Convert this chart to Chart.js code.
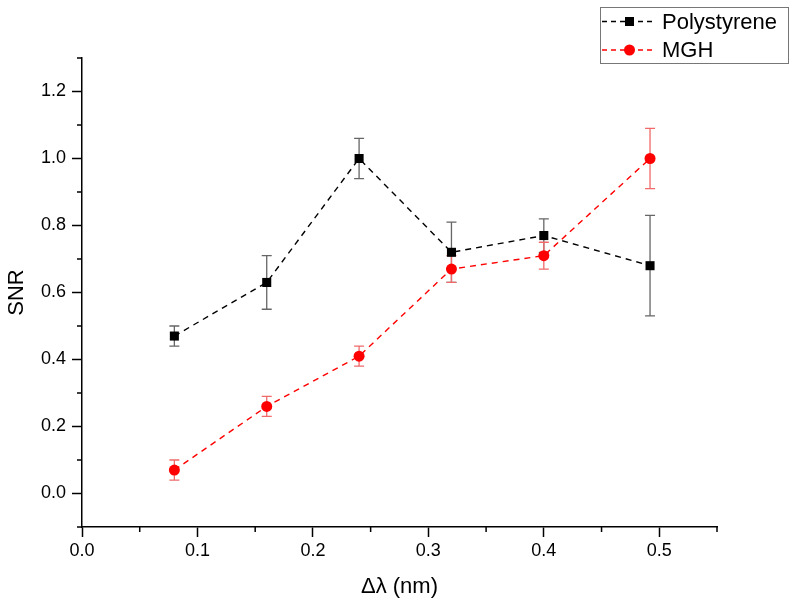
<!DOCTYPE html>
<html>
<head>
<meta charset="utf-8">
<script src="https://cdn.jsdelivr.net/npm/chart.js@4.4.0/dist/chart.umd.min.js"></script>
<style>
    body { margin: 0; background: #fff; }
    canvas { display: block; }
</style>
</head>
<body>
<canvas id="myChart" width="796" height="607"></canvas>
<script>
/* data */
const deltaLambda = [0.08, 0.16, 0.24, 0.32, 0.40, 0.492];
const polystyrene = [0.47, 0.63, 1.00, 0.72, 0.77, 0.68];
const polystyreneErr = [0.03, 0.08, 0.06, 0.09, 0.05, 0.15];
const mgh = [0.07, 0.26, 0.41, 0.67, 0.71, 1.00];
const mghErr = [0.03, 0.03, 0.03, 0.04, 0.04, 0.09];

const xTicks = [0.0, 0.1, 0.2, 0.3, 0.4, 0.5];
const xMinorTicks = [0.05, 0.15, 0.25, 0.35, 0.45, 0.55];
const yTicks = [0.0, 0.2, 0.4, 0.6, 0.8, 1.0, 1.2];
const yMinorTicks = [-0.1, 0.1, 0.3, 0.5, 0.7, 0.9, 1.1, 1.3];

const FONT = "'Liberation Sans', Arial, sans-serif";

const toPoints = (ys) => deltaLambda.map((x, i) => ({x: x, y: ys[i]}));

/* error bars, drawn from the arrays through the chart scales */
const errorBars = {
    id: 'errorBars',
    beforeDatasetsDraw(chart) {
        const ctx = chart.ctx;
        const xs = chart.scales.x, ys = chart.scales.y;
        chart.data.datasets.forEach((ds) => {
            ctx.save();
            ctx.strokeStyle = ds.errColor;
            ctx.lineWidth = 1.3;
            ds.data.forEach((p, i) => {
                const px = xs.getPixelForValue(p.x);
                const top = ys.getPixelForValue(p.y + ds.errors[i]);
                const bot = ys.getPixelForValue(p.y - ds.errors[i]);
                ctx.beginPath();
                ctx.moveTo(px, top); ctx.lineTo(px, bot);
                ctx.moveTo(px - 5, top); ctx.lineTo(px + 5, top);
                ctx.moveTo(px - 5, bot); ctx.lineTo(px + 5, bot);
                ctx.stroke();
            });
            ctx.restore();
        });
    }
};

/* minor ticks and the legend box */
const extras = {
    id: 'extras',
    afterDraw(chart) {
        const ctx = chart.ctx;
        const xs = chart.scales.x, ys = chart.scales.y;
        const area = chart.chartArea;
        ctx.save();
        ctx.strokeStyle = '#000';
        ctx.lineWidth = 1.5;
        ctx.beginPath();
        xMinorTicks.forEach((v) => {
            const px = xs.getPixelForValue(v);
            ctx.moveTo(px, area.bottom); ctx.lineTo(px, area.bottom + 5);
        });
        yMinorTicks.forEach((v) => {
            const py = ys.getPixelForValue(v);
            ctx.moveTo(area.left, py); ctx.lineTo(area.left - 5, py);
        });
        ctx.stroke();

        /* legend */
        ctx.strokeStyle = '#777';
        ctx.lineWidth = 1;
        ctx.strokeRect(600.5, 7.5, 188, 56);
        const rows = [21.5, 50];
        chart.data.datasets.forEach((ds, i) => {
            const y = rows[i];
            ctx.strokeStyle = ds.borderColor;
            ctx.lineWidth = 1.3;
            ctx.setLineDash([5, 4]);
            ctx.beginPath();
            ctx.moveTo(602, y); ctx.lineTo(656, y);
            ctx.stroke();
            ctx.setLineDash([]);
            ctx.fillStyle = ds.pointBackgroundColor;
            ctx.beginPath();
            if (ds.pointStyle === 'rect') {
                ctx.rect(625, y - 4.5, 9, 9);
            } else {
                ctx.arc(629.5, y, 5.5, 0, Math.PI * 2);
            }
            ctx.fill();
            ctx.fillStyle = '#000';
            ctx.font = '22px ' + FONT;
            ctx.textBaseline = 'middle';
            ctx.fillText(ds.label, 662, y + 1);
        });
        ctx.restore();
    }
};

const ctx = document.getElementById('myChart').getContext('2d');

new Chart(ctx, {
    type: 'line',
    data: {
        datasets: [{
            label: 'Polystyrene',
            data: toPoints(polystyrene),
            errors: polystyreneErr,
            errColor: '#666',
            borderColor: '#000',
            borderWidth: 1.4,
            borderDash: [6, 5],
            pointStyle: 'rect',
            pointRadius: 6.4,
            pointBorderWidth: 0,
            pointBackgroundColor: '#000',
            fill: false,
        }, {
            label: 'MGH',
            data: toPoints(mgh),
            errors: mghErr,
            errColor: '#f06a6a',
            borderColor: '#ff0000',
            borderWidth: 1.4,
            borderDash: [6, 5],
            pointStyle: 'circle',
            pointRadius: 5.5,
            pointBorderWidth: 0,
            pointBackgroundColor: '#ff0000',
            fill: false,
        }]
    },
    options: {
        responsive: false,
        animation: false,
        layout: { padding: { top: 58, right: 79, left: 0, bottom: 0 } },
        plugins: {
            legend: { display: false },
            tooltip: { enabled: false }
        },
        scales: {
            x: {
                type: 'linear',
                min: 0,
                max: 0.55,
                afterBuildTicks: (s) => { s.ticks = xTicks.map((v) => ({value: v})); },
                afterFit: (s) => { s.height = 80; },
                grid: {
                    drawOnChartArea: false,
                    tickLength: 10,
                    tickColor: '#000',
                    tickWidth: 1.5
                },
                border: { color: '#000', width: 1.5 },
                ticks: {
                    color: '#000',
                    padding: 3,
                    maxRotation: 0,
                    font: { family: FONT, size: 18 },
                    callback: (v) => v.toFixed(1)
                },
                title: {
                    display: true,
                    text: 'Δλ (nm)',
                    color: '#000',
                    font: { family: FONT, size: 22 },
                    padding: { top: 0, bottom: 7 }
                }
            },
            y: {
                type: 'linear',
                min: -0.1,
                max: 1.3,
                afterBuildTicks: (s) => { s.ticks = yTicks.map((v) => ({value: v})); },
                afterFit: (s) => { s.width = 82; },
                grid: {
                    drawOnChartArea: false,
                    tickLength: 10,
                    tickColor: '#000',
                    tickWidth: 1.5
                },
                border: { color: '#000', width: 1.5 },
                ticks: {
                    color: '#000',
                    padding: 6,
                    font: { family: FONT, size: 18 },
                    callback: (v) => v.toFixed(1)
                },
                title: {
                    display: true,
                    text: 'SNR',
                    color: '#000',
                    font: { family: FONT, size: 22 },
                    padding: { top: 4, bottom: 0 }
                }
            }
        }
    },
    plugins: [errorBars, extras]
});
</script>
</body>
</html>
